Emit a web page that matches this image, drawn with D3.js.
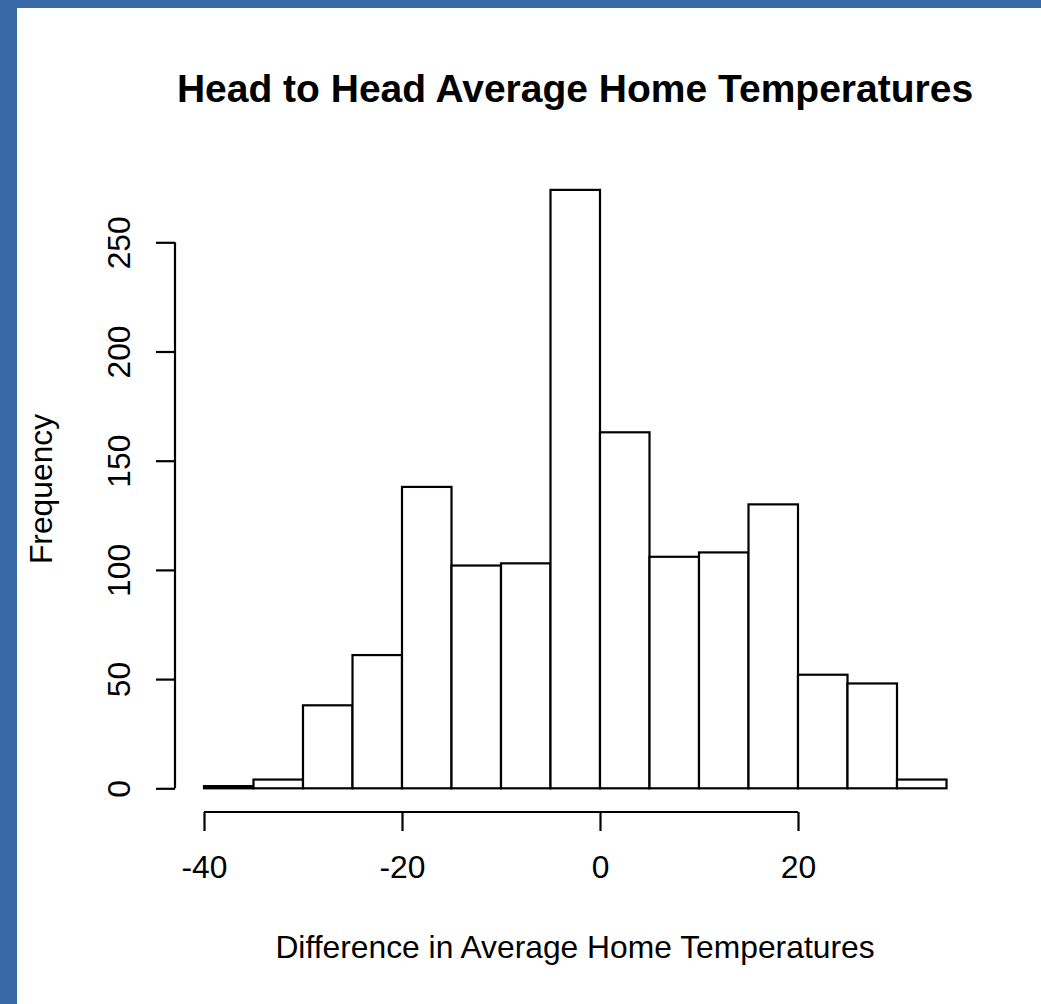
<!DOCTYPE html>
<html>
<head>
<meta charset="utf-8">
<script src="https://cdn.jsdelivr.net/npm/d3@7"></script>
<style>
  html, body { margin: 0; padding: 0; background: #3a69a8; }
  svg { display: block; }
</style>
</head>
<body>
<div id="chart"></div>
<script>
// histogram bins (left edges, width 5) and counts
const binStarts = [-40, -35, -30, -25, -20, -15, -10, -5, 0, 5, 10, 15, 20, 25, 30];
const binWidth = 5;
const counts = [1, 4, 38, 61, 138, 102, 103, 274, 163, 106, 108, 130, 52, 48, 4];
const xTicks = [-40, -20, 0, 20];
const yTicks = [0, 50, 100, 150, 200, 250];

const width = 1041, height = 1004;
const font = "'Liberation Sans', Arial, sans-serif";
const labelSize = 31.8;

const svg = d3.select("#chart").append("svg")
  .attr("width", width)
  .attr("height", height);

// white page on blue frame
svg.append("rect").attr("x", 17).attr("y", 8)
  .attr("width", width - 17).attr("height", height - 8)
  .attr("fill", "#fff");

const x = d3.scaleLinear().domain([-40, 20]).range([204, 798]);
const y = d3.scaleLinear().domain([0, 250]).range([788.3, 242.3]);

// bars
svg.append("g")
  .selectAll("rect")
  .data(binStarts.map((s, i) => ({ s, c: counts[i] })))
  .join("rect")
  .attr("x", d => x(d.s))
  .attr("y", d => y(d.c))
  .attr("width", d => x(d.s + binWidth) - x(d.s))
  .attr("height", d => y(0) - y(d.c))
  .attr("fill", "#fff")
  .attr("stroke", "#000")
  .attr("stroke-width", 2.2);

// x axis, R style: line from first to last tick, offset below
const axisY = 812;
const gx = svg.append("g").attr("transform", `translate(0,${axisY})`)
  .call(d3.axisBottom(x).tickValues(xTicks).tickSize(19).tickPadding(24).tickFormat(d3.format("d")));
gx.select(".domain").remove();
gx.append("line")
  .attr("x1", x(xTicks[0])).attr("x2", x(xTicks[xTicks.length - 1]))
  .attr("stroke", "#000").attr("stroke-width", 2.2);
gx.selectAll(".tick line").attr("stroke", "#000").attr("stroke-width", 2.2);
gx.selectAll(".tick text")
  .attr("font-family", font).attr("font-size", labelSize).attr("fill", "#000")
  .text(d => d < 0 ? "-" + Math.abs(d) : d);

// y axis, labels rotated as in R
const axisX = 175;
const gy = svg.append("g").attr("transform", `translate(${axisX},0)`)
  .call(d3.axisLeft(y).tickValues(yTicks).tickSize(19).tickFormat(d3.format("d")));
gy.select(".domain").remove();
gy.append("line")
  .attr("y1", y(yTicks[0])).attr("y2", y(yTicks[yTicks.length - 1]))
  .attr("stroke", "#000").attr("stroke-width", 2.2);
gy.selectAll(".tick line").attr("stroke", "#000").attr("stroke-width", 2.2);
gy.selectAll(".tick text")
  .attr("font-family", font).attr("font-size", labelSize).attr("fill", "#000")
  .attr("x", null).attr("dy", null)
  .attr("text-anchor", "middle")
  .attr("transform", "translate(-45,0) rotate(-90)");

// title and axis labels
svg.append("text")
  .attr("x", 575).attr("y", 102)
  .attr("text-anchor", "middle")
  .attr("font-family", font).attr("font-weight", "bold").attr("font-size", 39)
  .text("Head to Head Average Home Temperatures");

svg.append("text")
  .attr("x", 575).attr("y", 958)
  .attr("text-anchor", "middle")
  .attr("font-family", font).attr("font-size", labelSize)
  .text("Difference in Average Home Temperatures");

svg.append("text")
  .attr("transform", "translate(52,489) rotate(-90)")
  .attr("text-anchor", "middle")
  .attr("font-family", font).attr("font-size", labelSize)
  .text("Frequency");
</script>
</body>
</html>
